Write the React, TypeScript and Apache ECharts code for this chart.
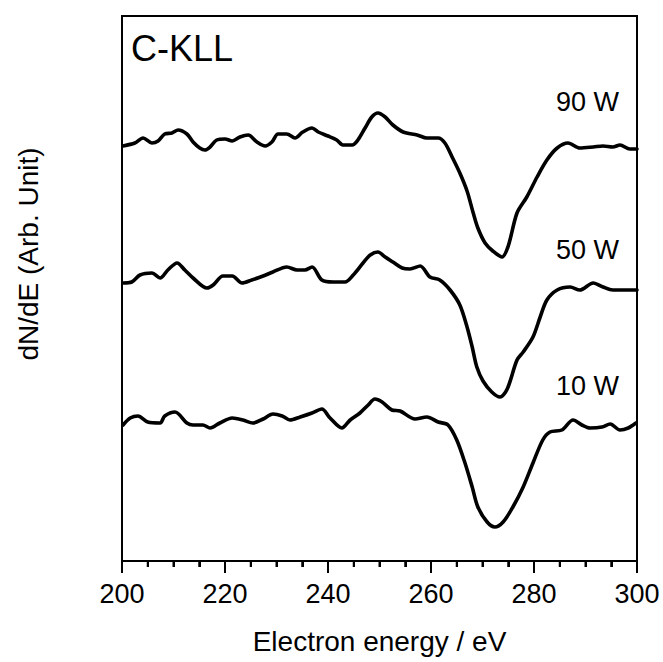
import React, { useEffect, useRef } from "react";
import * as echarts from "echarts";

// Electron energy (eV) and dN/dE (arbitrary units, offset per trace)
const x90 = [200.2,202.5,204.1,205.8,207.0,208.3,209.7,210.9,212.6,213.8,215.1,216.1,217.1,218.4,220.0,221.4,222.9,224.5,226.2,227.8,229.1,230.3,232.0,233.6,235.1,236.9,238.1,240.0,241.7,242.9,244.7,245.8,247.2,248.5,249.7,251.1,252.6,254.6,257.3,259.2,261.4,262.7,264.1,265.6,267.0,268.2,269.1,270.5,272.0,273.8,275.0,276.7,278.6,280.6,282.5,284.5,286.6,288.9,291.5,293.4,295.3,296.7,298.6,300.0];
const y90 = [415,418,423,418,420,427,428,431,427,419,413,411,414,421,422,420,424,426,419,415,419,427,427,423,429,433,429,425,421,416,416,421,433,444,448,444,436,429,426,423,423,418,404,388,370,348,333,318,310,304,315,348,364,384,401,413,418,413,414,415,414,416,412,412];

const x50 = [200.2,201.9,203.5,205.8,207.4,208.9,210.7,212.2,213.8,216.5,217.7,219.6,221.4,223.3,225.2,227.4,229.3,232.0,234.0,235.5,236.9,238.8,241.0,243.3,244.9,246.8,248.2,249.7,251.1,252.6,254.4,255.9,257.9,259.8,261.7,263.7,265.6,267.0,268.0,268.9,270.1,271.8,273.4,274.8,276.7,277.9,279.8,281.2,282.5,284.5,287.0,288.9,291.5,293.4,295.3,298.1,300.0];
const y50 = [278,279,286,288,283,291,298,291,283,273,276,285,285,278,281,285,289,294,291,291,294,281,279,279,286,298,306,309,304,299,293,292,295,284,281,271,256,234,214,194,180,169,164,172,201,209,224,244,261,271,274,271,278,274,271,271,271];

const x10 = [200.2,201.6,203.1,205.0,207.4,208.3,210.3,212.6,213.8,215.7,217.1,219.0,221.4,223.5,225.4,227.4,229.3,231.1,232.6,234.6,236.9,238.8,240.4,242.7,244.3,246.2,247.8,249.1,250.5,252.4,254.0,256.9,259.2,261.4,263.3,265.0,266.6,268.0,269.1,270.9,272.4,274.0,275.9,277.9,279.8,281.7,283.1,285.4,287.6,289.3,290.9,293.2,294.8,296.7,298.3,299.8];
const y10 = [136,143,145,139,138,145,149,138,136,136,133,138,143,141,138,142,147,145,141,144,148,152,143,133,141,148,156,162,159,151,150,142,144,139,136,121,98,74,54,39,34,39,54,74,98,121,129,131,141,136,133,134,137,131,133,138];

const seriesNames = ["90 W", "50 W", "10 W"];
const xTicks = [200, 220, 240, 260, 280, 300];
const xMinorTicks = [205, 210, 215, 225, 230, 235, 245, 250, 255, 265, 270, 275, 285, 290, 295];

const FONT = "Liberation Sans, Arial, Helvetica, sans-serif";
const MAJOR_LEN = 12;
const MINOR_LEN = 6;

function zip(xs: number[], ys: number[]) {
  return xs.map((v, i) => [v, ys[i]]);
}

export default function App() {
  const ref = useRef<HTMLDivElement>(null);
  useEffect(() => {
    if (!ref.current) return;
    const chart = echarts.init(ref.current, null, { renderer: "svg" });
    const lineStyle = { color: "#000", width: 3.6, cap: "round", join: "round" };
    const tickData = xTicks.map((v) => [v, 0, MAJOR_LEN]).concat(xMinorTicks.map((v) => [v, 0, MINOR_LEN]));
    chart.setOption({
      animation: false,
      backgroundColor: "#fff",
      textStyle: { fontFamily: FONT },
      grid: {
        left: 122, right: 26, top: 16, bottom: 101,
        outerBoundsMode: "none",
        show: true, borderColor: "#000", borderWidth: 2, backgroundColor: "transparent",
      },
      xAxis: {
        type: "value",
        min: xTicks[0],
        max: xTicks[xTicks.length - 1],
        interval: 20,
        name: "Electron energy / eV",
        nameLocation: "middle",
        nameGap: 66,
        nameTextStyle: { fontSize: 28, color: "#000", fontFamily: FONT },
        axisLine: { show: true, lineStyle: { color: "#000", width: 2 } },
        axisTick: { show: true, length: MAJOR_LEN, lineStyle: { color: "#000", width: 2 } },
        minorTick: { show: true, splitNumber: 4, length: MINOR_LEN, lineStyle: { color: "#000", width: 2 } },
        axisLabel: { fontSize: 27, color: "#000", margin: 19, fontFamily: FONT },
        splitLine: { show: false },
      },
      yAxis: {
        type: "value",
        min: 0,
        max: 545,
        axisLine: { show: true, lineStyle: { color: "#000", width: 2 } },
        axisTick: { show: false },
        axisLabel: { show: false },
        splitLine: { show: false },
      },
      series: [
        { name: seriesNames[0], type: "line", data: zip(x90, y90), showSymbol: false, smooth: 0.3, lineStyle },
        { name: seriesNames[1], type: "line", data: zip(x50, y50), showSymbol: false, smooth: 0.3, lineStyle },
        { name: seriesNames[2], type: "line", data: zip(x10, y10), showSymbol: false, smooth: 0.3, lineStyle },
        {
          name: "ticks",
          type: "custom",
          silent: true,
          clip: false,
          encode: { x: 0, y: 1 },
          data: tickData,
          renderItem: (_params: any, api: any) => {
            const p = api.coord([api.value(0), api.value(1)]);
            const len = api.value(2);
            return {
              type: "line",
              shape: { x1: p[0], y1: p[1], x2: p[0], y2: p[1] + len },
              style: { stroke: "#000", lineWidth: 2 },
            };
          },
        },
      ],
      graphic: [
        {
          type: "text",
          x: 28,
          y: 254,
          rotation: Math.PI / 2,
          style: {
            text: "dN/dE (Arb. Unit)",
            fontSize: 28,
            fontFamily: FONT,
            fill: "#000",
            align: "center",
            verticalAlign: "middle",
          },
        },
        {
          type: "text",
          x: 131,
          y: 48,
          style: { text: "C-KLL", fontSize: 36, fontFamily: FONT, fill: "#000", align: "left", verticalAlign: "middle" },
        },
        {
          type: "text",
          x: 619,
          y: 102,
          style: { text: seriesNames[0], fontSize: 27, fontFamily: FONT, fill: "#000", align: "right", verticalAlign: "middle" },
        },
        {
          type: "text",
          x: 619,
          y: 250,
          style: { text: seriesNames[1], fontSize: 27, fontFamily: FONT, fill: "#000", align: "right", verticalAlign: "middle" },
        },
        {
          type: "text",
          x: 619,
          y: 386,
          style: { text: seriesNames[2], fontSize: 27, fontFamily: FONT, fill: "#000", align: "right", verticalAlign: "middle" },
        },
      ],
    });
    return () => chart.dispose();
  }, []);
  return <div ref={ref} style={{ width: 663, height: 662, position: "absolute", left: 0, top: 0 }} />;
}
